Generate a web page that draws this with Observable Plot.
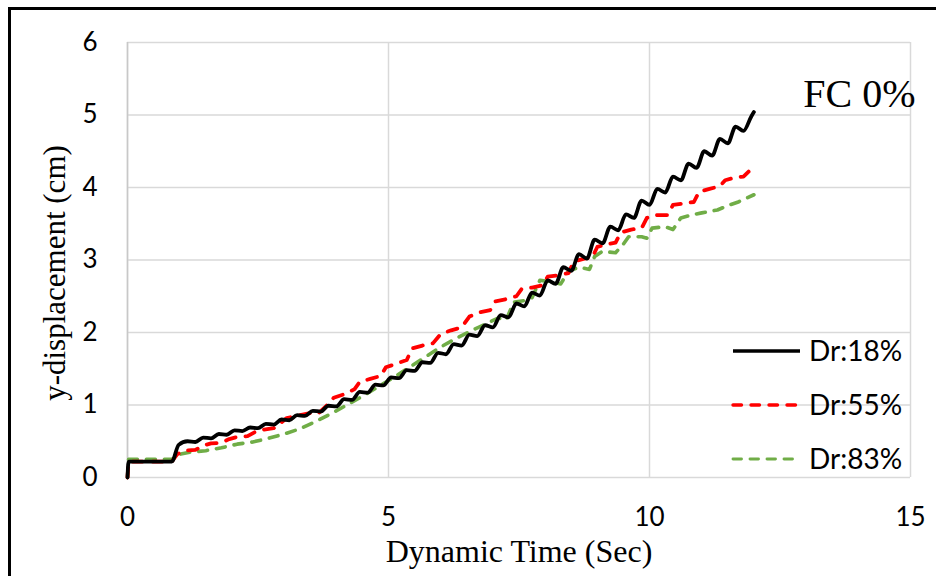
<!DOCTYPE html>
<html>
<head>
<meta charset="utf-8">
<script src="https://cdn.jsdelivr.net/npm/d3@7"></script>
<script src="https://cdn.jsdelivr.net/npm/@observablehq/plot@0.6"></script>
<style>
  html, body { margin: 0; padding: 0; background: #fff; }
  #wrap { position: relative; width: 936px; height: 576px; overflow: hidden; }
  #frame { position: absolute; left: 8px; top: 7px; width: 1200px; height: 1200px;
           border-left: 3px solid #000; border-top: 3px solid #000; pointer-events: none; }
  #legend { position: absolute; left: 0; top: 0; }
</style>
</head>
<body>
<div id="wrap">
  <div id="chart"></div>
  <div id="frame"></div>
  <svg id="legend" width="936" height="576"></svg>
</div>
<script>
// ---- data ----
const seriesNames = ["Dr:18%", "Dr:55%", "Dr:83%"];
const seriesColors = ["#000000", "#ff0000", "#70ad47"];
const xTicks = [0, 5, 10, 15];
const yTicks = [0, 1, 2, 3, 4, 5, 6];

const dr18 = [[0,0],[0.02,0.22],[0.85,0.22],[0.98,0.45],[1.15,0.50],[1.3,0.49],[1.45,0.55],[1.6,0.54],[1.75,0.60],[1.9,0.59],
  [2.05,0.65],[2.2,0.64],[2.35,0.69],[2.5,0.68],[2.65,0.74],[2.8,0.73],[2.95,0.80],[3.1,0.79],[3.25,0.86],[3.4,0.85],
  [3.55,0.92],[3.7,0.91],[3.85,0.99],[4.0,0.98],[4.15,1.08],[4.3,1.07],[4.45,1.18],[4.6,1.17],[4.75,1.28],[4.9,1.27],
  [5.05,1.38],[5.2,1.37],[5.35,1.48],[5.5,1.47],[5.65,1.59],[5.8,1.58],[5.95,1.72],[6.1,1.70],[6.25,1.84],[6.4,1.82],
  [6.55,1.97],[6.7,1.95],[6.85,2.10],[7.0,2.07],[7.15,2.24],[7.3,2.21],[7.45,2.40],[7.6,2.36],[7.75,2.55],[7.9,2.51],
  [8.05,2.72],[8.2,2.67],[8.35,2.90],[8.5,2.85],[8.65,3.08],[8.8,3.02],[8.95,3.28],[9.1,3.23],[9.25,3.46],[9.4,3.41],
  [9.55,3.63],[9.7,3.58],[9.85,3.82],[10.0,3.76],[10.15,3.98],[10.3,3.93],[10.45,4.15],[10.6,4.10],[10.75,4.33],[10.9,4.27],
  [11.05,4.50],[11.2,4.44],[11.35,4.67],[11.5,4.61],[11.65,4.84],[11.8,4.78],[11.95,4.98],[12.0,5.04]];

const dr55 = [[0,0],[0.02,0.22],[0.85,0.22],[0.95,0.32],[1.1,0.37],[1.3,0.38],[1.45,0.44],[1.6,0.47],[1.8,0.48],[1.95,0.53],
  [2.1,0.56],[2.3,0.57],[2.45,0.63],[2.6,0.66],[2.8,0.68],[2.95,0.76],[3.05,0.82],[3.3,0.86],[3.5,0.89],[3.65,0.88],
  [3.8,0.98],[3.95,1.10],[4.2,1.16],[4.35,1.22],[4.45,1.32],[4.65,1.36],[4.85,1.40],[4.95,1.52],[5.15,1.57],[5.35,1.62],
  [5.45,1.78],[5.65,1.82],[5.85,1.85],[6.0,1.98],[6.2,2.03],[6.4,2.07],[6.55,2.22],[6.75,2.28],[6.95,2.31],[7.05,2.43],
  [7.25,2.46],[7.45,2.50],[7.55,2.60],[7.75,2.62],[7.95,2.65],[8.05,2.77],[8.25,2.79],[8.45,2.82],[8.55,2.98],[8.75,3.02],
  [8.9,3.03],[9.0,3.18],[9.2,3.22],[9.35,3.24],[9.45,3.38],[9.65,3.42],[9.85,3.44],[9.95,3.58],[10.15,3.62],[10.35,3.62],
  [10.45,3.76],[10.65,3.78],[10.85,3.80],[10.95,3.94],[11.15,3.98],[11.35,4.02],[11.45,4.10],[11.65,4.14],[11.8,4.15],
  [11.9,4.22],[12.0,4.32]];

const dr83 = [[0,0],[0.02,0.25],[0.85,0.25],[1.0,0.32],[1.2,0.35],[1.5,0.37],[1.8,0.41],[2.1,0.46],[2.4,0.49],[2.7,0.54],
  [3.0,0.60],[3.3,0.67],[3.6,0.77],[3.9,0.88],[4.2,1.00],[4.5,1.12],[4.8,1.25],[5.1,1.38],[5.4,1.52],[5.7,1.66],
  [6.0,1.80],[6.3,1.92],[6.6,2.03],[6.9,2.13],[7.1,2.20],[7.25,2.17],[7.4,2.42],[7.6,2.44],[7.75,2.48],[7.9,2.72],
  [8.1,2.70],[8.3,2.67],[8.45,2.85],[8.65,2.90],[8.85,2.87],[8.95,3.05],[9.1,3.12],[9.35,3.10],[9.5,3.22],[9.6,3.32],
  [9.85,3.32],[9.95,3.30],[10.05,3.44],[10.3,3.46],[10.45,3.42],[10.6,3.58],[10.8,3.62],[11.0,3.65],[11.3,3.69],
  [11.5,3.75],[11.7,3.80],[12.0,3.90]];

const annotation = "FC 0%";
const xTitle = "Dynamic Time (Sec)";
const yTitle = "y-displacement (cm)";

// ---- chart ----
const tickFont = "Lato, 'Open Sans', sans-serif";
const serifFont = "'Liberation Serif', 'Times New Roman', serif";
const gridColor = "#d9d9d9";

const rows = (arr, name) => arr.map(([t, v]) => ({t, v, name}));

const chart = Plot.plot({
  width: 936,
  height: 576,
  marginLeft: 127,
  marginRight: 26,
  marginTop: 42,
  marginBottom: 99,
  style: {fontFamily: tickFont, background: "transparent", overflow: "visible"},
  x: {domain: [0, 15], label: null},
  y: {domain: [0, 6], label: null},
  marks: [
    Plot.gridY(yTicks, {stroke: gridColor, strokeOpacity: 1, strokeWidth: 1.5}),
    Plot.gridX(xTicks, {stroke: gridColor, strokeOpacity: 1, strokeWidth: 1.5}),
    Plot.ruleX([0], {stroke: "#c8c8c8", strokeWidth: 1.5}),
    Plot.axisX(xTicks, {tickSize: 0, tickPadding: 30, fontSize: 26, fill: "#000", label: null, tickFormat: d3.format("d")}),
    Plot.axisY(yTicks, {tickSize: 0, tickPadding: 30, fontSize: 26, fill: "#000", label: null, tickFormat: d3.format("d")}),
    Plot.line(rows(dr83, seriesNames[2]), {x: "t", y: "v", stroke: seriesColors[2], strokeWidth: 3.6,
      strokeDasharray: "9,9", strokeLinecap: "round", strokeLinejoin: "round"}),
    Plot.line(rows(dr55, seriesNames[1]), {x: "t", y: "v", stroke: seriesColors[1], strokeWidth: 3.8,
      strokeDasharray: "10,10", strokeLinecap: "round", strokeLinejoin: "round"}),
    Plot.line(rows(dr18, seriesNames[0]), {x: "t", y: "v", stroke: seriesColors[0], strokeWidth: 3.8,
      strokeLinejoin: "round", strokeLinecap: "round", curve: "monotone-x"}),
    Plot.text([xTitle], {frameAnchor: "bottom", lineAnchor: "middle", dy: 74, fontFamily: serifFont, fontSize: 32, fill: "#000"}),
    Plot.text([yTitle], {frameAnchor: "left", textAnchor: "middle", lineAnchor: "middle", rotate: -90, dx: -72, dy: 13,
      fontFamily: serifFont, fontSize: 31, fill: "#000"}),
    Plot.text([annotation], {frameAnchor: "top-right", textAnchor: "end", dx: 5, dy: 36, fontFamily: serifFont, fontSize: 40, fill: "#000"})
  ]
});
document.getElementById("chart").appendChild(chart);

// ---- legend (overlay) ----
const leg = d3.select("#legend");
const legY = [351, 405, 459];
const dashes = [null, "8.5,9.5", "8.5,8.5"];
const widths = [3.4, 3.4, 2.9];
seriesNames.forEach((name, i) => {
  leg.append("line")
    .attr("x1", 733).attr("x2", 800).attr("y1", legY[i]).attr("y2", legY[i])
    .attr("stroke", seriesColors[i]).attr("stroke-width", widths[i])
    .attr("stroke-linecap", i === 0 ? "butt" : "round")
    .attr("stroke-dasharray", dashes[i]);
  leg.append("text")
    .attr("x", 809).attr("y", legY[i]).attr("dy", "0.35em")
    .attr("font-family", tickFont).attr("font-size", 28).attr("fill", "#000")
    .text(name);
});
</script>
</body>
</html>
